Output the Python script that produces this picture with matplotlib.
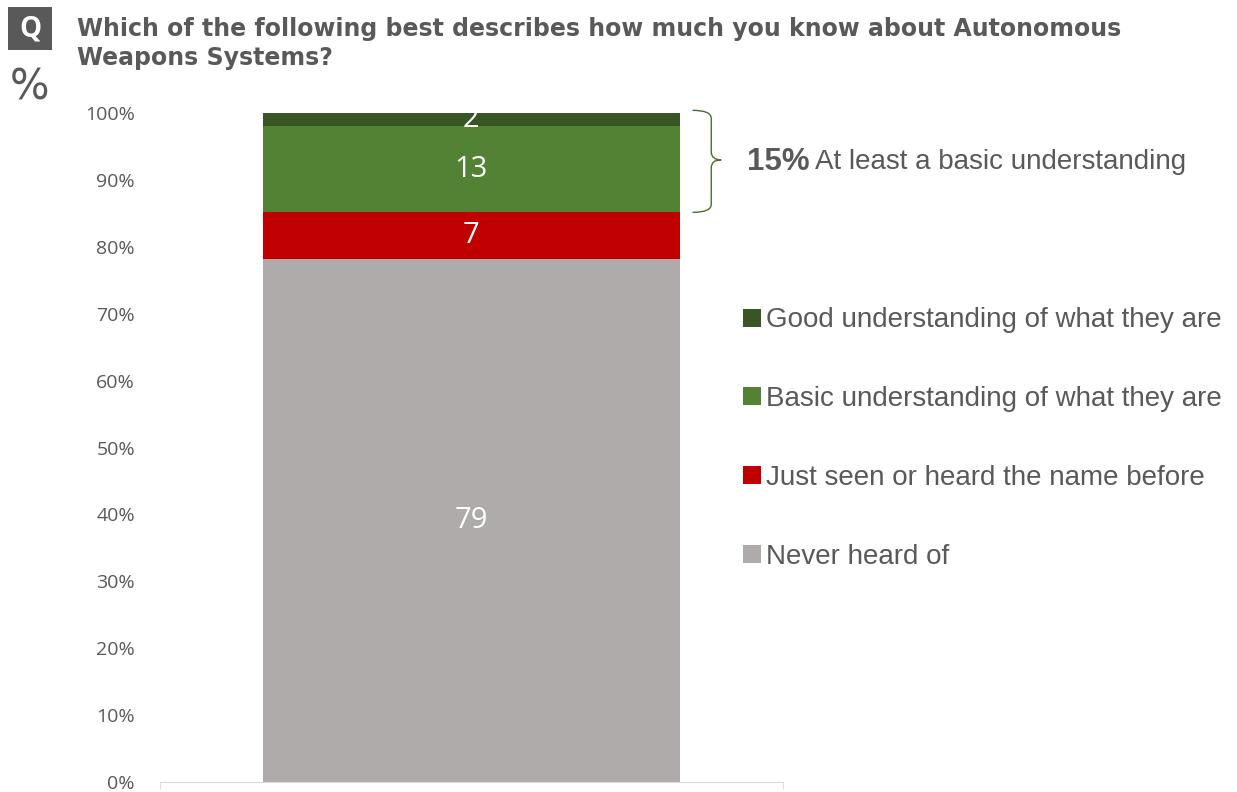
import numpy as np
import matplotlib.pyplot as plt
from matplotlib.patches import Rectangle, Patch, PathPatch
from matplotlib.path import Path

# Survey answers, bottom of the stack first
categories = ["Never heard of",
              "Just seen or heard the name before",
              "Basic understanding of what they are",
              "Good understanding of what they are"]
values = [79, 7, 13, 2]
colors = ["#AEABAA", "#C00000", "#548235", "#375623"]

title = ("Which of the following best describes how much you know about Autonomous\n"
         "Weapons Systems?")
yticks = np.arange(0, 101, 10)

grey = "#595959"

fig = plt.figure(figsize=(12.37, 7.92), dpi=100)
ax = fig.add_axes([0.1293, 0.0126, 0.5036, 0.8447])

# 100% stacked bar (values sum to 101, so normalise)
shares = np.array(values) / sum(values) * 100
bottom = 0
for v, s, c in zip(values, shares, colors):
    ax.bar(0, s, width=0.67, bottom=bottom, color=c, edgecolor="none")
    ax.text(0, bottom + s / 2, str(v), ha="center", va="center",
            color="white", fontsize=21, family="Open Sans")
    bottom += s

ax.set_xlim(-0.5, 0.5)
ax.set_ylim(0, 100)
ax.set_yticks(yticks)
ax.set_yticklabels([f"{t}%" for t in yticks])
ax.tick_params(axis="y", length=0, pad=18, labelsize=14, labelcolor=grey)
for lab in ax.get_yticklabels():
    lab.set_family("Open Sans")
ax.set_xticks([])
ax.set_xticks([-0.5, 0.5], minor=True)
ax.tick_params(axis="x", which="minor", length=5, color="#d9d9d9")
for side in ["left", "right", "top"]:
    ax.spines[side].set_visible(False)
ax.spines["bottom"].set_color("#d9d9d9")

# brace around the two "understanding" segments
y_top = 100.4
y_bot = shares[0] + shares[1]
y_mid = 93.0
xa, xb, xt = 0.355, 0.385, 0.401
r = 1.2
verts = [(xa, y_top), (xb, y_top), (xb, y_top - r),
         (xb, y_mid + r), (xb, y_mid), (xt, y_mid),
         (xb, y_mid), (xb, y_mid - r),
         (xb, y_bot + r), (xb, y_bot), (xa, y_bot)]
codes = [Path.MOVETO, Path.CURVE3, Path.CURVE3,
         Path.LINETO, Path.CURVE3, Path.CURVE3,
         Path.CURVE3, Path.CURVE3,
         Path.LINETO, Path.CURVE3, Path.CURVE3]
ax.add_patch(PathPatch(Path(verts, codes), fill=False, edgecolor="#4a6e2e",
                       lw=1, clip_on=False))

t1 = ax.text(0.442, y_mid - 0.3, f"{values[2] + values[3]}%", fontsize=22.5,
             fontweight="bold", color=grey, va="center", family="Liberation Sans")
ax.annotate("At least a basic understanding", xy=(1, 0.5), xycoords=t1,
            xytext=(4, 0), textcoords="offset points", va="center",
            fontsize=20, color=grey, family="Liberation Sans")

# legend, top entry first
handles = [Patch(facecolor=c, edgecolor="none") for c in colors[::-1]]
fig.legend(handles, categories[::-1], loc="upper left",
           bbox_to_anchor=(0.601, 0.612), frameon=False, borderpad=0,
           borderaxespad=0, handlelength=0.62, handleheight=0.62,
           handletextpad=0.2, labelspacing=1.9,
           prop={"family": "Liberation Sans", "size": 20},
           labelcolor=grey)

# header: Q box, % sign and question
fig.add_artist(Rectangle((8 / 1237, 1 - 50 / 792), 44 / 1237, 43 / 792,
                         transform=fig.transFigure, facecolor=grey,
                         edgecolor="none"))
fig.text(30 / 1237, 1 - 29 / 792, "Q", color="white", fontsize=20,
         fontweight="bold", ha="center", va="center", family="Open Sans")
fig.text(29 / 1237, 1 - 88 / 792, "%", color=grey, fontsize=30,
         ha="center", va="center", family="DejaVu Sans")
fig.text(77 / 1237, 1 - 17 / 792, title, color=grey, fontsize=17,
         fontweight="bold", ha="left", va="top", linespacing=1.27,
         family="DejaVu Sans")

fig.savefig("out.png", dpi=100)
